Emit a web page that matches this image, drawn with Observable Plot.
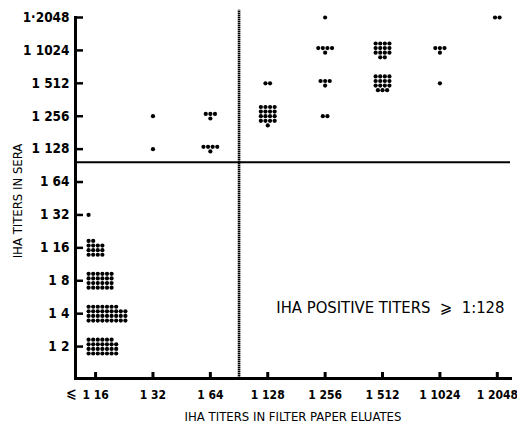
<!DOCTYPE html>
<html><head><meta charset="utf-8">
<script src="https://cdn.jsdelivr.net/npm/d3@7"></script>
<script src="https://cdn.jsdelivr.net/npm/@observablehq/plot@0.6"></script>
<style>body{margin:0;background:#fff}</style>
</head><body><div id="chart"></div>
<script>
// Titer categories (axis order) and their printed tick labels
const eluateLevels = ["1:16","1:32","1:64","1:128","1:256","1:512","1:1024","1:2048"];
const eluateLabels = ["1 16","1 32","1 64","1 128","1 256","1 512","1 1024","1 2048"];
const eluatePrefix = "⩽"; // printed before the lowest eluate titer
const seraLevels = ["1:2","1:4","1:8","1:16","1:32","1:64","1:128","1:256","1:512","1:1024","1:2048"];
const seraLabels = ["1 2","1 4","1 8","1 16","1 32","1 64","1 128","1 256","1 512","1 1024","1·2048"];

// Cells: eluate titer, serum titer, number of samples (dots)
const cellEluate = ["1:16","1:16","1:16","1:16","1:16","1:32","1:32","1:64","1:64","1:128","1:128","1:256","1:256","1:256","1:256","1:512","1:512","1:1024","1:1024","1:2048"];
const cellSera   = ["1:2","1:4","1:8","1:16","1:32","1:128","1:256","1:128","1:256","1:256","1:512","1:256","1:512","1:1024","1:2048","1:512","1:1024","1:512","1:1024","1:2048"];
const cellCount  = [27,34,24,14,1,1,1,5,4,17,2,2,4,5,1,15,14,1,4,2];

// Positive-titer cutoff (between 1:64 and 1:128)
const cutoffEluate = 2.5;
const cutoffSera = 5.6;
const annotation = "IHA POSITIVE TITERS  ⩾  1:128";

const W = 517, H = 428, mL = 75, mR = 7, mT = 17, mB = 50;
const xDom = [-0.35, 7.23], yDom = [-0.97, 10];
const kx = (W - mL - mR) / (xDom[1] - xDom[0]);
const ky = (H - mT - mB) / (yDom[1] - yDom[0]);
const sp = 4.6;

// expand each cell into individual dots arranged in a small grid
const dots = [];
cellCount.forEach((n, i) => {
  const xi = eluateLevels.indexOf(cellEluate[i]);
  const yi = seraLevels.indexOf(cellSera[i]);
  if (xi === 0) {
    const rows = Math.min(4, n), cols = Math.ceil(n / rows);
    for (let k = 0; k < n; k++) {
      const r = Math.floor(k / cols), c = k % cols; // r counted from bottom
      dots.push({x: xi + (-7 + c * sp) / kx, y: yi + (r - (rows - 1) / 2) * sp / ky});
    }
  } else {
    const cols = n <= 2 ? n : n <= 5 ? n - 1 : 4;
    const rows = Math.ceil(n / cols);
    for (let k = 0; k < n; k++) {
      const r = Math.floor(k / cols), c = k % cols;
      const inRow = Math.min(cols, n - r * cols);
      dots.push({x: xi + (c - (inRow - 1) / 2) * sp / kx, y: yi + ((rows - 1) / 2 - r) * sp / ky});
    }
  }
});

const xTicks = d3.range(eluateLevels.length);
const yTicks = d3.range(seraLevels.length);
const plotW = W - mL - mR, plotH = H - mT - mB;

const chart = Plot.plot({
  width: W, height: H,
  marginLeft: mL, marginRight: mR, marginTop: mT, marginBottom: mB,
  style: {fontFamily: "'DejaVu Sans Condensed', sans-serif", fontSize: "12px", color: "#000", background: "#fff"},
  x: {type: "linear", domain: xDom},
  y: {type: "linear", domain: yDom},
  marks: [
    Plot.ruleY([cutoffSera], {stroke: "#000", strokeWidth: 2}),
    Plot.ruleX([cutoffEluate], {stroke: "#000", strokeWidth: 2.6, strokeDasharray: "1.4,0.6", y1: yDom[0], y2: yDom[1] + 0.22}),
    Plot.frame({anchor: "left", stroke: "#000", strokeWidth: 3}),
    Plot.frame({anchor: "bottom", stroke: "#000", strokeWidth: 3}),
    // inward tick marks
    Plot.tickY(yTicks, {y: d => d, stroke: "#000", strokeWidth: 2.5, insetRight: plotW - 8}),
    Plot.tickX(xTicks, {x: d => d, stroke: "#000", strokeWidth: 3, insetTop: plotH - 6}),
    Plot.axisY({ticks: yTicks, tickFormat: i => seraLabels[i], tickSize: 0, tickPadding: 6, fontWeight: "bold", fontSize: 13.5, label: null}),
    Plot.axisX({ticks: xTicks, tickFormat: i => eluateLabels[i], tickSize: 0, tickPadding: 12, fontWeight: "bold", fontSize: 12, label: null}),
    Plot.text([eluatePrefix], {x: () => 0, frameAnchor: "bottom", dx: -24, dy: 19, fontSize: 14, fontWeight: "bold"}),
    Plot.dot(dots, {x: "x", y: "y", r: 2.1, fill: "#000", stroke: "none"}),
    Plot.text(["IHA TITERS IN SERA"], {frameAnchor: "left", textAnchor: "middle", rotate: -90, dx: -58, dy: 3, fontSize: 13}),
    Plot.text(["IHA TITERS IN FILTER PAPER ELUATES"], {frameAnchor: "bottom", dy: 42, fontSize: 13}),
    Plot.text([annotation], {frameAnchor: "bottom-right", textAnchor: "end", dx: -6, dy: -66, fontSize: 16.5})
  ]
});
document.getElementById("chart").append(chart);
</script></body></html>
